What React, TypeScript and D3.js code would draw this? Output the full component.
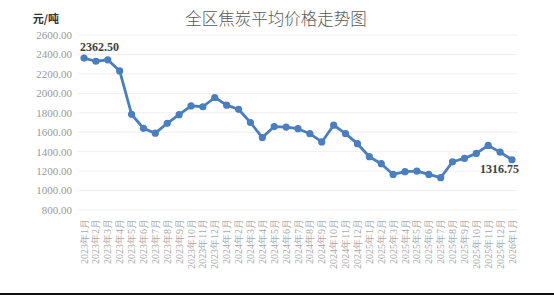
import React from "react";
import * as d3 from "d3";

const months: string[] = [
  "2023年1月","2023年2月","2023年3月","2023年4月","2023年5月","2023年6月","2023年7月","2023年8月","2023年9月","2023年10月","2023年11月","2023年12月",
  "2024年1月","2024年2月","2024年3月","2024年4月","2024年5月","2024年6月","2024年7月","2024年8月","2024年9月","2024年10月","2024年11月","2024年12月",
  "2025年1月","2025年2月","2025年3月","2025年4月","2025年5月","2025年6月","2025年7月","2025年8月","2025年9月","2025年10月","2025年11月","2025年12月",
  "2026年1月",
];

const prices: number[] = [
  2362.5, 2330, 2345, 2230, 1785, 1640, 1590, 1692, 1780, 1870, 1862, 1957,
  1878, 1836, 1700, 1545, 1658, 1653, 1636, 1585, 1500, 1672, 1585, 1482,
  1348, 1276, 1166, 1194, 1200, 1166, 1132, 1296, 1331, 1382, 1464, 1395,
  1316.75,
];

const yTicks: number[] = [800, 1000, 1200, 1400, 1600, 1800, 2000, 2200, 2400, 2600];

const W = 554;
const H = 295;

export default function App() {
  const x = d3.scalePoint<string>().domain(months).range([84, 512]);
  const y = d3.scaleLinear().domain([800, 2600]).range([210, 35]);
  const line = d3
    .line<number>()
    .x((_, i) => x(months[i]) as number)
    .y((d) => y(d));
  const blue = "#4a7ebf";
  const serif = "'Liberation Serif', 'Times New Roman', serif";
  const lastI = prices.length - 1;
  return (
    <svg width={W} height={H} style={{ position: "absolute", left: 0, top: 0, background: "#fff" }}>
      <rect x={0} y={0} width={W} height={H} fill="#fff" />
      <text x={276} y={25} textAnchor="middle" fontSize={16.5} fill="#595959" fontFamily="'Noto Sans CJK SC', sans-serif" fontWeight={300}>
        全区焦炭平均价格走势图
      </text>
      <text x={46} y={23} textAnchor="middle" fontSize={11} fontWeight="bold" fill="#333" fontFamily="'Noto Sans CJK SC', sans-serif">
        元/吨
      </text>
      {yTicks.map((t) => (
        <g key={t}>
          <line x1={78} x2={518} y1={y(t)} y2={y(t)} stroke="#efefef" strokeWidth={1} />
          <text x={72} y={y(t)} dy="0.35em" textAnchor="end" fontSize={11} fill="#999" fontFamily={serif}>
            {t.toFixed(2)}
          </text>
        </g>
      ))}
      {months.map((m) => (
        <text
          key={m}
          transform={`translate(${(x(m) as number) + 3.5},219) rotate(-90)`}
          textAnchor="end"
          fontSize={10}
          fill="#aaa"
          fontFamily={serif}
        >
          {m}
        </text>
      ))}
      <path d={line(prices) || ""} fill="none" stroke={blue} strokeWidth={2.8} strokeLinejoin="round" />
      {prices.map((p, i) => (
        <circle key={i} cx={x(months[i]) as number} cy={y(p)} r={3.6} fill={blue} />
      ))}
      <text x={x(months[0]) as number} y={51} dx={-4} fontSize={12} fontWeight="bold" fill="#404040" fontFamily={serif}>
        {prices[0].toFixed(2)}
      </text>
      <text x={x(months[lastI]) as number} y={173} dx={7} textAnchor="end" fontSize={12} fontWeight="bold" fill="#404040" fontFamily={serif}>
        {prices[lastI].toFixed(2)}
      </text>
      <line x1={0} x2={W} y1={294} y2={294} stroke="#111" strokeWidth={2} />
    </svg>
  );
}
